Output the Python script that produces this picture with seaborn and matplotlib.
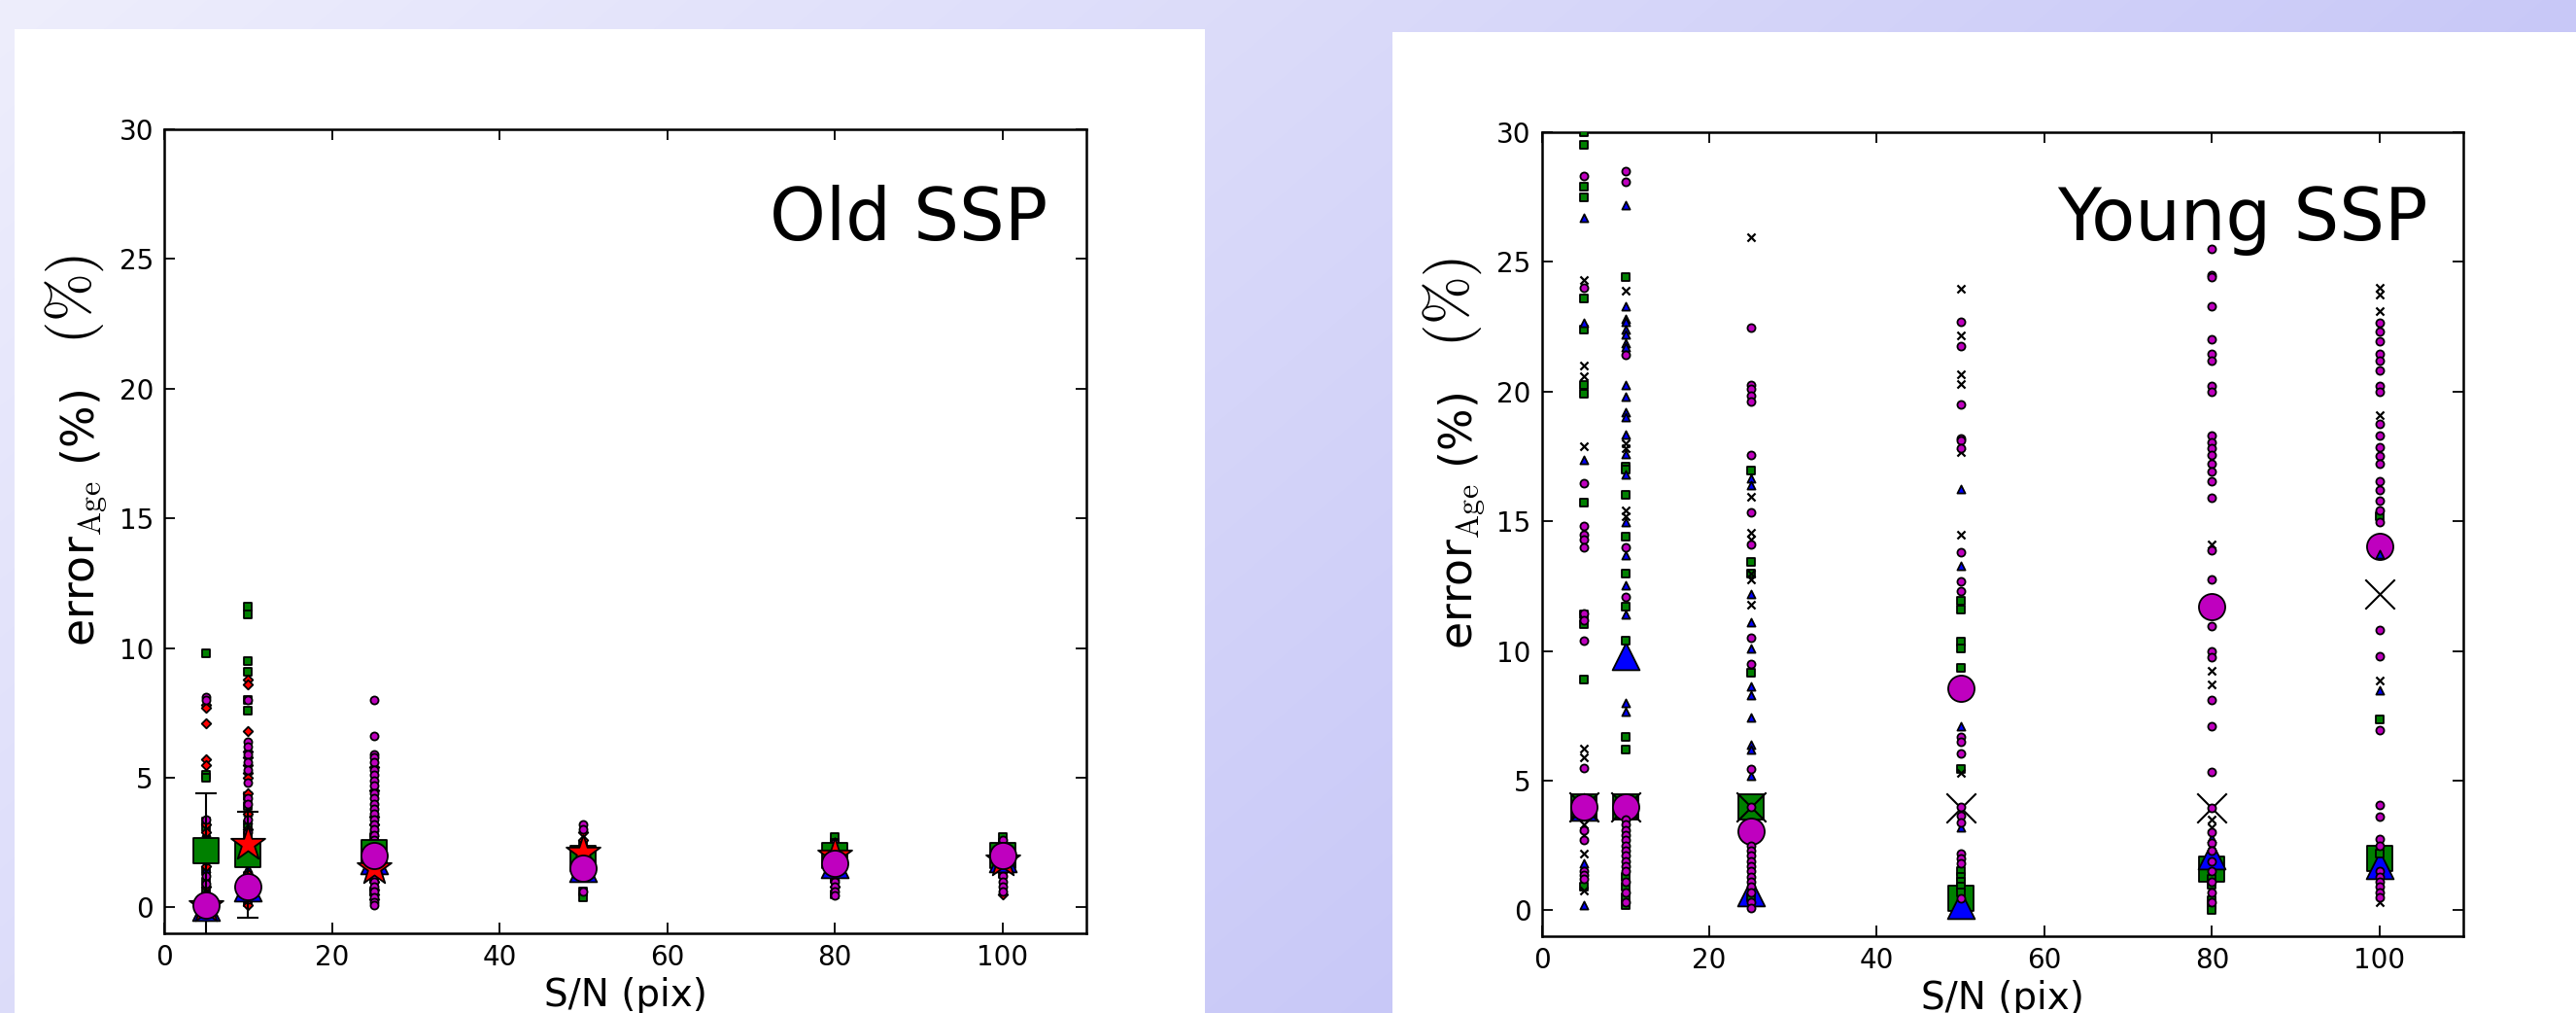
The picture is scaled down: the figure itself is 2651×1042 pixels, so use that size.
import numpy as np
import pandas as pd
import matplotlib.pyplot as plt
import seaborn as sns
from matplotlib.patches import Rectangle

# S/N columns
SN = [5, 10, 25, 50, 80, 100]

# ---- Old SSP: individual points (small markers) ----
old_square = {5: [9.8, 5.1, 5.0, 3.3, 3.1, 1.4, 1.0, 0.6],
              10: [11.6, 11.3, 9.5, 9.1, 8.0, 7.6, 4.3, 3.9, 3.2, 2.8, 1.2, 0.6, 0.2],
              25: [2.7, 2.3, 1.1, 0.6],
              50: [2.4, 0.6, 0.4],
              80: [2.7, 2.5, 1.1, 0.5],
              100: [2.7, 2.5, 1.3]}
old_diamond = {5: [7.8, 7.7, 7.1, 5.7, 5.5, 3.2, 2.9, 1.6, 0.8, 0.3],
               10: [8.8, 8.6, 6.8, 6.0, 5.8, 5.5, 5.2, 5.0, 4.4, 3.6, 3.0, 1.3, 0.4, 0.1],
               25: [5.4, 4.5, 3.5, 3.2, 2.5, 1.0, 0.7, 0.5, 0.3],
               50: [2.9, 2.6],
               80: [2.2, 0.8],
               100: [2.3, 1.4, 0.5]}
old_circle = {5: [8.1, 8.0, 3.4, 2.6, 1.8, 1.2, 0.9, 0.5, 0.2],
              10: [8.0, 6.4, 6.2, 5.9, 5.6, 5.3, 4.8, 4.2, 4.0, 3.4, 2.9, 1.1, 0.7, 0.3],
              25: [8.0, 6.6, 5.9, 5.8, 5.6, 5.3, 5.1, 4.9, 4.7, 4.4, 4.2, 4.0, 3.8, 3.6,
                   3.4, 3.2, 3.0, 2.8, 2.6, 1.2, 1.0, 0.8, 0.6, 0.4, 0.2, 0.1],
              50: [3.2, 3.0, 0.6],
              80: [2.5, 1.0, 0.8, 0.6, 0.45],
              100: [2.6, 1.5, 1.2, 1.0, 0.8, 0.6]}
old_triangle = {5: [2.9, 1.5, 0.4],
                10: [3.7, 3.4, 1.5, 0.9],
                25: [3.1, 2.9, 2.7, 1.4],
                50: [2.2, 1.3],
                80: [2.0, 1.2],
                100: [2.1, 1.6]}

# ---- Old SSP: summary values (big markers) ----
old_big_square = [2.2, 2.05, 2.1, 1.9, 2.0, 2.0]
old_big_triangle = [0.0, 0.75, 1.8, 1.5, 1.65, 1.9]
old_big_star = [0.05, 2.45, 1.5, 2.1, 2.0, 1.8]
old_big_circle = [0.1, 0.8, 2.0, 1.5, 1.7, 2.0]

# error bars (old SSP)
err_sn = [5, 10]
err_mid = [0.1, 1.65]
err_half = [4.3, 2.05]

# ---- Young SSP: individual points ----
young_square = {5: [30.0, 29.5, 27.9, 27.5, 23.6, 22.4, 20.25, 19.9, 15.7, 11.4, 11.05, 8.9, 0.9],
                10: [24.4, 17.1, 17.0, 16.0, 14.4, 13.0, 11.7, 10.4, 6.7, 6.2, 1.3, 0.9, 0.5, 0.2],
                25: [16.95, 13.45, 13.0, 9.15, 0.5],
                50: [11.95, 11.6, 10.35, 10.1, 9.35, 5.45, 1.5, 1.3, 1.1, 0.9, 0.7],
                80: [1.2, 1.0, 0.4, 0.2, 0.0],
                100: [15.2, 7.35, 2.2]}
young_circle = {5: [28.3, 24.0, 16.45, 14.8, 14.5, 14.3, 14.0, 11.45, 11.2, 10.4, 5.5,
                    3.1, 2.7, 1.5, 1.35, 1.2],
                10: [28.5, 28.1, 21.4, 14.0, 12.1, 3.5, 3.3, 3.1, 2.9, 2.7, 2.5, 2.3, 2.1,
                     1.9, 1.7, 1.5, 1.1, 0.7, 0.3],
                25: [22.45, 20.25, 20.1, 19.85, 19.6, 17.55, 15.35, 14.1, 10.5, 9.5, 5.45, 4.0,
                     2.5, 2.3, 2.1, 1.9, 1.7, 1.5, 1.3, 1.1, 0.9, 0.7, 0.3, 0.1],
                50: [22.7, 21.75, 19.5, 18.2, 18.1, 17.8, 13.8, 12.7, 12.3, 6.7, 6.5, 6.05,
                     4.0, 3.65, 3.4, 2.2, 2.0, 1.8, 0.45],
                80: [25.5, 24.5, 24.4, 23.3, 22.0, 21.45, 21.2, 20.2, 20.0, 18.3, 18.05, 17.8,
                     17.55, 17.2, 16.9, 16.55, 15.9, 13.9, 12.75, 10.95, 10.0, 9.75, 8.1, 7.1,
                     5.35, 3.95, 3.0, 2.6, 2.3, 1.9, 1.5, 1.1, 0.7, 0.3],
                100: [22.65, 22.3, 21.95, 21.45, 21.2, 20.8, 20.2, 20.0, 18.75, 18.3, 17.85,
                      17.5, 17.2, 16.55, 16.2, 15.8, 15.4, 14.95, 10.8, 9.8, 6.95, 4.05, 3.6,
                      2.75, 2.5, 1.5, 1.3, 1.1, 0.9, 0.7, 0.5]}
young_triangle = {5: [26.7, 22.65, 17.35, 1.8, 0.2],
                  10: [27.2, 23.3, 22.8, 22.7, 22.4, 22.2, 21.85, 21.7, 20.25, 19.8, 19.2,
                       19.0, 18.35, 17.6, 16.8, 14.95, 13.7, 12.55, 11.4, 8.0, 7.65],
                  25: [16.65, 16.4, 12.2, 11.1, 10.1, 8.65, 8.3, 7.45, 6.4, 6.2, 5.2],
                  50: [16.25, 13.3, 7.1, 3.2],
                  80: [2.8],
                  100: [13.75, 8.5]}
young_x = {5: [24.3, 21.0, 20.6, 17.9, 6.25, 5.9, 3.3, 2.9, 2.2, 0.75],
           10: [23.9, 18.0, 17.8, 15.4, 15.2],
           25: [25.95, 15.95, 14.55, 14.3, 13.0, 12.75, 11.8],
           50: [23.95, 22.15, 20.65, 20.3, 17.65, 14.5, 5.3],
           80: [14.1, 9.25, 8.7, 3.5, 3.2],
           100: [24.0, 23.75, 23.1, 19.1, 8.85, 0.3]}

# ---- Young SSP: summary values ----
young_big_square = [4.0, 4.0, 4.0, 0.45, 1.6, 2.0]
young_big_triangle = [4.0, 9.8, 0.7, 0.2, 2.1, 1.75]
young_big_x = [4.0, 4.0, 4.0, 3.95, 3.95, 12.2]
young_big_circle = [4.0, 4.0, 3.05, 8.55, 11.7, 14.05]


def to_frame(series):
    rows = [(sn, v) for sn, vals in series.items() for v in vals]
    return pd.DataFrame(rows, columns=['sn', 'err'])


def big_frame(values):
    return pd.DataFrame({'sn': SN, 'err': values})


def puntos(ax, df, marker, color, size, z, lw=1.3):
    sns.scatterplot(data=df, x='sn', y='err', marker=marker, color=color, s=size,
                    edgecolor='black', linewidth=lw, ax=ax, zorder=z, legend=False)


def estilo_ejes(ax, titulo, tx, ty):
    ax.set_xlim(0, 110)
    ax.set_ylim(-1, 30)
    ax.set_xticks(range(0, 101, 20))
    ax.set_yticks(range(0, 31, 5))
    ax.tick_params(which='both', direction='in', top=True, right=True,
                   length=8, width=1.3, labelsize=20, pad=8, color='black',
                   labelcolor='black')
    for sp in ax.spines.values():
        sp.set_linewidth(1.8)
        sp.set_color('black')
        sp.set_visible(True)
    ax.set_facecolor('white')
    ax.grid(False)
    ax.set_xlabel('S/N (pix)', fontsize=28, labelpad=4, color='black')
    ax.set_ylabel(r'error$_{\rm Age}$ (%)', fontsize=33, color='black')
    ax.yaxis.set_label_coords(-0.06, 0.517)
    ax.text(-0.097, 0.788, r'$(\%)$', transform=ax.transAxes, rotation=90,
            fontsize=43, ha='center', va='center', color='black')
    ax.text(tx, ty, titulo, transform=ax.transAxes, ha='right', va='baseline',
            fontsize=53, color='black')


sns.set_style("ticks")
plt.rcParams['font.family'] = ['DejaVu Sans']
plt.rcParams['mathtext.fontset'] = 'cm'
plt.rcParams['text.color'] = 'black'
plt.rcParams['axes.labelcolor'] = 'black'

W, H = 2651, 1042
fig = plt.figure(figsize=(W / 100, H / 100), dpi=100)

# fondo degradado de la diapositiva
bg = fig.add_axes([0, 0, 1, 1], zorder=-10)
yy, xx = np.mgrid[0:H, 0:W]
t = np.clip(0.75 * xx / W + 0.35 * yy / H, 0, 1)[..., None]
light = np.array([238, 238, 252]) / 255
dark = np.array([188, 188, 246]) / 255
bg.imshow(light + (dark - light) * t, extent=(0, W, H, 0), aspect='auto')
bg.add_patch(Rectangle((15, 30), 1225, H - 30, facecolor='white', edgecolor='none'))
bg.add_patch(Rectangle((1433, 33), W - 1433, H - 33, facecolor='white', edgecolor='none'))
bg.set_xlim(0, W)
bg.set_ylim(H, 0)
bg.axis('off')

ax1 = fig.add_axes([169 / W, 82 / H, 949 / W, 827 / H])
ax2 = fig.add_axes([1586.5 / W, 79 / H, 948.5 / W, 827 / H])

# ---- Old SSP ----
puntos(ax1, to_frame(old_square), 's', 'green', 34, 3)
puntos(ax1, to_frame(old_triangle), '^', 'blue', 34, 3)
puntos(ax1, to_frame(old_diamond), 'D', 'red', 24, 3)
puntos(ax1, to_frame(old_circle), 'o', 'm', 34, 3)
ax1.errorbar(err_sn, err_mid, yerr=err_half, fmt='none', ecolor='black',
             elinewidth=1.5, capsize=8, capthick=1.5, zorder=4)
puntos(ax1, big_frame(old_big_square), 's', 'green', 330, 5)
puntos(ax1, big_frame(old_big_triangle), '^', 'blue', 400, 6)
puntos(ax1, big_frame(old_big_star), '*', 'red', 700, 7)
puntos(ax1, big_frame(old_big_circle), 'o', 'm', 380, 8)
estilo_ejes(ax1, 'Old SSP', 0.958, 0.862)

# ---- Young SSP ----
puntos(ax2, big_frame(young_big_square), 's', 'green', 330, 2)
puntos(ax2, big_frame(young_big_triangle), '^', 'blue', 400, 3)
sns.scatterplot(data=big_frame(young_big_x), x='sn', y='err', marker='x', color='black',
                s=480, linewidth=1.5, ax=ax2, zorder=4, legend=False)
puntos(ax2, big_frame(young_big_circle), 'o', 'm', 380, 5)
puntos(ax2, to_frame(young_square), 's', 'green', 34, 6)
puntos(ax2, to_frame(young_triangle), '^', 'blue', 34, 6)
sns.scatterplot(data=to_frame(young_x), x='sn', y='err', marker='x', color='black',
                s=34, linewidth=1.6, ax=ax2, zorder=6, legend=False)
puntos(ax2, to_frame(young_circle), 'o', 'm', 34, 6)
estilo_ejes(ax2, 'Young SSP', 0.961, 0.866)

fig.savefig('out.png', dpi=100)
